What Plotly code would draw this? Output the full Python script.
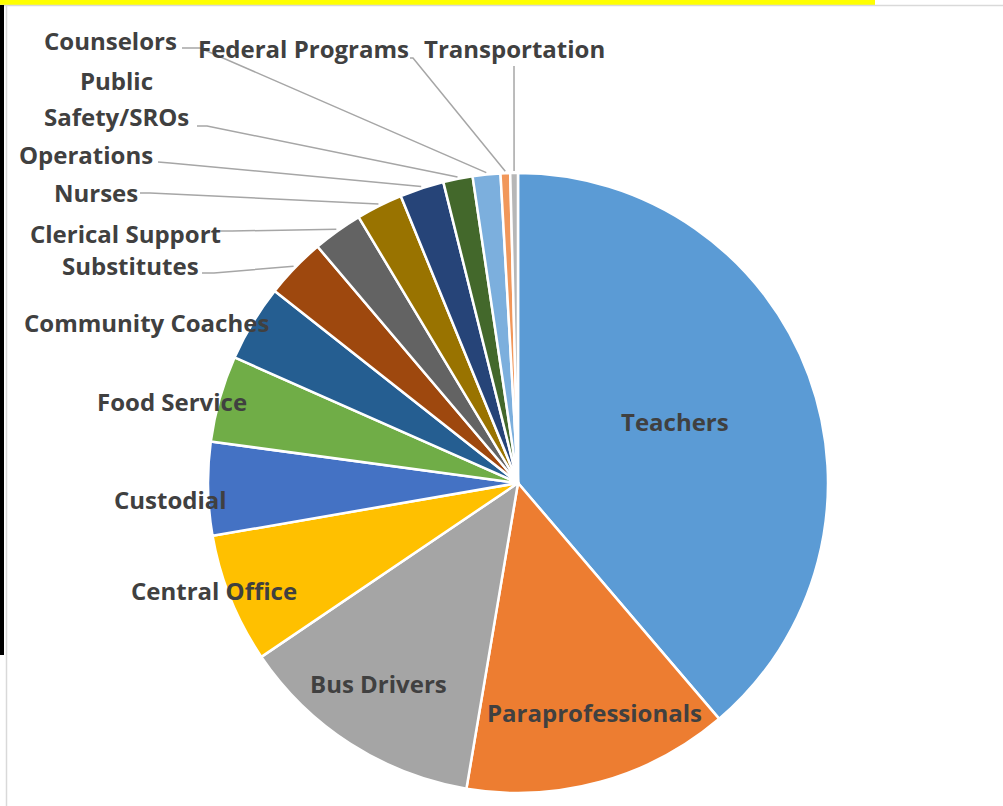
import math
import plotly.graph_objects as go

# ---- data ----
categories = ["Teachers", "Paraprofessionals", "Bus Drivers", "Central Office", "Custodial",
              "Food Service", "Community Coaches", "Substitutes", "Clerical Support", "Nurses",
              "Operations", "Public Safety/SROs", "Counselors", "Federal Programs", "Transportation"]
shares = [38.75, 13.9, 12.86, 6.75, 4.86, 4.5, 4.0, 3.17, 2.6, 2.42, 2.3, 1.53, 1.44, 0.5, 0.4]
colors = ["#5B9BD5", "#ED7D31", "#A5A5A5", "#FFC000", "#4472C4", "#70AD47", "#255E91",
          "#9E480E", "#636363", "#997300", "#264478", "#43682B", "#7CAFDD", "#F1975A", "#B7B7B7"]

W, H = 1003, 806
CX, CY, R = 518, 483, 310

def px(x, y):
    return x / W, 1 - y / H

fig = go.Figure(go.Pie(
    labels=categories, values=shares, sort=False, direction="clockwise", rotation=0,
    marker=dict(colors=colors, line=dict(color="white", width=2.5)),
    textinfo="none", hoverinfo="label+percent", showlegend=False,
    domain=dict(x=[(CX - R) / W, (CX + R) / W], y=[1 - (CY + R) / H, 1 - (CY - R) / H]),
))

# label positions (pixel centers); multi-line labels get one entry per line
label_pos = {
    "Teachers": [(675, 422)], "Paraprofessionals": [(594, 712)], "Bus Drivers": [(378, 683)],
    "Central Office": [(214, 590)], "Custodial": [(170, 499)], "Food Service": [(172, 401)],
    "Community Coaches": [(146, 322)], "Substitutes": [(130, 265)], "Clerical Support": [(125, 233)],
    "Nurses": [(96, 192)], "Operations": [(86, 154)], "Public Safety/SROs": [(116, 80), (116, 117)],
    "Counselors": [(110, 41)], "Federal Programs": [(303, 48)], "Transportation": [(514, 48)],
}
label_lines = {"Public Safety/SROs": ["Public", "Safety/SROs"]}
leader = {
    "Substitutes": [(202, 273), (214, 273)],
    "Clerical Support": [(220, 231), (232, 231)],
    "Nurses": [(140, 193), (150, 193)],
    "Operations": [(158, 162), (170, 163)],
    "Public Safety/SROs": [(197, 126), (207, 126)],
    "Counselors": [(182, 48), (200, 48)],
    "Federal Programs": [(410, 58), (413, 58)],
    "Transportation": [(514, 66), (514, 67)],
}

total = sum(shares)
cum = 0
mid_angle = {}
for c, v in zip(categories, shares):
    mid_angle[c] = (cum + v / 2) / total * 360
    cum += v

shapes = []
for c, pts in leader.items():
    a = math.radians(mid_angle[c])
    ex, ey = CX + (R + 2) * math.sin(a), CY - (R + 2) * math.cos(a)
    seq = pts + [(ex, ey)]
    path = "M " + " L ".join(f"{px(x, y)[0]:.5f},{px(x, y)[1]:.5f}" for x, y in seq)
    shapes.append(dict(type="path", xref="paper", yref="paper", path=path,
                       line=dict(color="#A6A6A6", width=1.5)))

# page decorations
shapes.append(dict(type="rect", xref="paper", yref="paper", x0=0, x1=875 / W, y0=1 - 5 / H, y1=1,
                   fillcolor="#FFFF00", line=dict(width=0)))
shapes.append(dict(type="line", xref="paper", yref="paper", x0=0, x1=1, y0=1 - 5.5 / H, y1=1 - 5.5 / H,
                   line=dict(color="#D9D9D9", width=1.5)))
shapes.append(dict(type="rect", xref="paper", yref="paper", x0=0, x1=4 / W, y0=1 - 655 / H, y1=1 - 5 / H,
                   fillcolor="#000000", line=dict(width=0)))
shapes.append(dict(type="line", xref="paper", yref="paper", x0=6.5 / W, x1=6.5 / W, y0=0, y1=1 - 5 / H,
                   line=dict(color="#D9D9D9", width=1.5)))

annotations = []
for c, positions in label_pos.items():
    texts = label_lines.get(c, [c])
    for t, (x, y) in zip(texts, positions):
        ax, ay = px(x, y)
        annotations.append(dict(text=t, x=ax, y=ay, xref="paper", yref="paper", showarrow=False,
                                xanchor="center", yanchor="middle",
                                font=dict(family="Open Sans", size=24, color="#404040", weight="bold")))

fig.update_layout(width=W, height=H, margin=dict(l=0, r=0, t=0, b=0),
                  paper_bgcolor="white", plot_bgcolor="white",
                  shapes=shapes, annotations=annotations)
fig.write_html("out.html", config={"displayModeBar": False},
               post_script="document.body.style.margin='0';document.body.style.overflow='hidden';")
